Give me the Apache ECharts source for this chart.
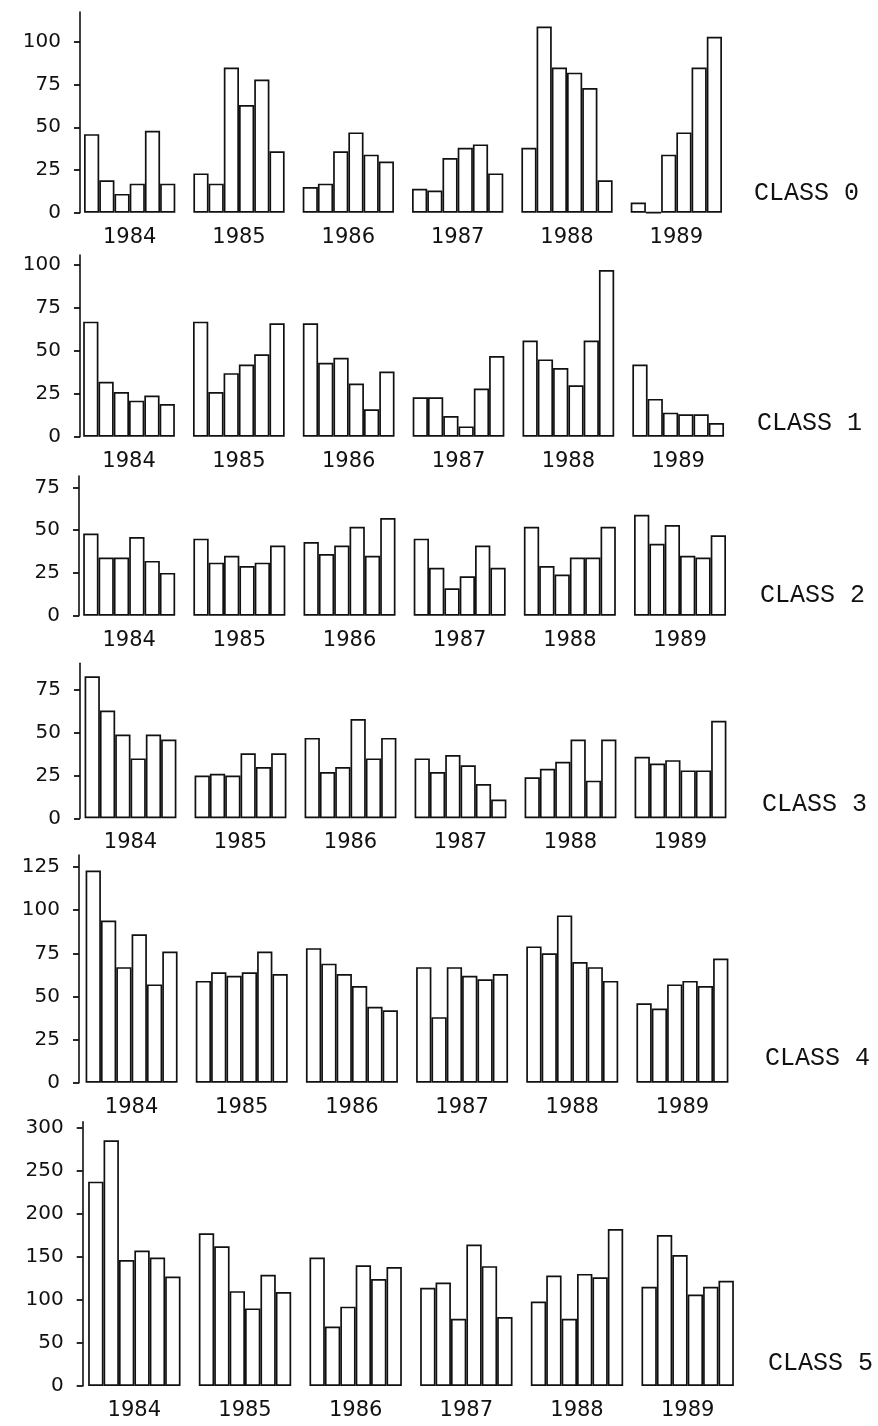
<!DOCTYPE html>
<html><head><meta charset="utf-8">
<script src="https://cdn.jsdelivr.net/npm/echarts@6/dist/echarts.min.js"></script>
<style>html,body{margin:0;padding:0;background:#fff}#c{width:878px;height:1426px}</style>
</head><body><div id="c"></div>
<script>
// ---- data ----
const years = ['1984', '1985', '1986', '1987', '1988', '1989'];
const classLabels = ['CLASS 0', 'CLASS 1', 'CLASS 2', 'CLASS 3', 'CLASS 4', 'CLASS 5'];

// each row = one year, six successive bars within that year
const class0 = [
  [46, 19, 11, 17, 48, 17],
  [23, 17, 85, 63, 78, 36],
  [15, 17, 36, 47, 34, 30],
  [14, 13, 32, 38, 40, 23],
  [38, 109, 85, 82, 73, 19],
  [6, 0, 34, 47, 85, 103]
];
const class1 = [
  [67, 32, 26, 21, 24, 19],
  [67, 26, 37, 42, 48, 66],
  [66, 43, 46, 31, 16, 38],
  [23, 23, 12, 6, 28, 47],
  [56, 45, 40, 30, 56, 97],
  [42, 22, 14, 13, 13, 8]
];
const class2 = [
  [48, 34, 34, 46, 32, 25],
  [45, 31, 35, 29, 31, 41],
  [43, 36, 41, 52, 35, 57],
  [45, 28, 16, 23, 41, 28],
  [52, 29, 24, 34, 34, 52],
  [59, 42, 53, 35, 34, 47]
];
const class3 = [
  [83, 63, 49, 35, 49, 46],
  [25, 26, 25, 38, 30, 38],
  [47, 27, 30, 58, 35, 47],
  [35, 27, 37, 31, 20, 11],
  [24, 29, 33, 46, 22, 46],
  [36, 32, 34, 28, 28, 57]
];
const class4 = [
  [123, 94, 67, 86, 57, 76],
  [59, 64, 62, 64, 76, 63],
  [78, 69, 63, 56, 44, 42],
  [67, 38, 67, 62, 60, 63],
  [79, 75, 97, 70, 67, 59],
  [46, 43, 57, 59, 56, 72]
];
const class5 = [
  [237, 285, 146, 157, 149, 127],
  [177, 162, 110, 90, 129, 109],
  [149, 69, 92, 140, 124, 138],
  [114, 120, 78, 164, 139, 80],
  [98, 128, 78, 130, 126, 182],
  [115, 175, 152, 106, 115, 122]
];

const ticks0 = [0, 25, 50, 75, 100];
const ticks1 = [0, 25, 50, 75, 100];
const ticks2 = [0, 25, 50, 75];
const ticks3 = [0, 25, 50, 75];
const ticks4 = [0, 25, 50, 75, 100, 125];
const ticks5 = [0, 50, 100, 150, 200, 250, 300];

const axisMax = [117.5, 105.8, 81.6, 90.6, 132, 306.5];

// ---- layout (pixels) ----
const layout = [
  { top: 12,    zero: 212.7,  left: 75,   width: 656, axisX: 80,   lx: 754, ly: 195 },
  { top: 255,   zero: 436.7,  left: 74.1, width: 659, axisX: 80,   lx: 757, ly: 425 },
  { top: 476,   zero: 615.7,  left: 74.1, width: 661, axisX: 79,   lx: 760, ly: 597 },
  { top: 663.3, zero: 818.3,  left: 75.5, width: 660, axisX: 80,   lx: 762, ly: 806 },
  { top: 855,   zero: 1082.7, left: 76.5, width: 661, axisX: 79,   lx: 765, ly: 1060 },
  { top: 1121.7,zero: 1386,   left: 79,   width: 664, axisX: 82.7, lx: 768, ly: 1365 }
];

const classes = [class0, class1, class2, class3, class4, class5];
const ticks = [ticks0, ticks1, ticks2, ticks3, ticks4, ticks5];

const INK = '#111111';
const grid = [], xAxis = [], yAxis = [], series = [], title = [];

layout.forEach((L, k) => {
  grid.push({ left: L.left, top: L.top, width: L.width, height: L.zero - L.top, containLabel: false });
  xAxis.push({
    type: 'category', gridIndex: k, data: years,
    axisLine: { show: false }, axisTick: { show: false },
    axisLabel: { margin: 14, fontSize: 21, fontFamily: 'DejaVu Sans', color: INK }
  });
  yAxis.push({
    type: 'value', gridIndex: k, min: 0, max: axisMax[k],
    offset: L.left - L.axisX,
    splitLine: { show: false },
    axisLine: { show: true, lineStyle: { color: INK, width: 1.6 } },
    axisTick: { show: true, length: 6, customValues: ticks[k], lineStyle: { color: INK, width: 1.8 } },
    axisLabel: { customValues: ticks[k], margin: 19, fontSize: 20, fontFamily: 'DejaVu Sans', color: INK }
  });
  for (let j = 0; j < 6; j++) {
    series.push({
      type: 'bar', xAxisIndex: k, yAxisIndex: k,
      data: classes[k].map(row => row[j]),
      barGap: '0%', barCategoryGap: '16.5%',
      itemStyle: { color: '#ffffff', borderColor: INK, borderWidth: 1.7 },
      silent: true
    });
  }
  title.push({
    text: classLabels[k], left: L.lx, top: L.ly - 14, padding: 0,
    textStyle: { fontFamily: 'Liberation Mono', fontSize: 25, fontWeight: 'normal', color: INK }
  });
});

const chart = echarts.init(document.getElementById('c'), null, { renderer: 'canvas' });
chart.setOption({
  backgroundColor: '#ffffff',
  animation: false,
  title, grid, xAxis, yAxis, series
});
</script>
</body></html>
